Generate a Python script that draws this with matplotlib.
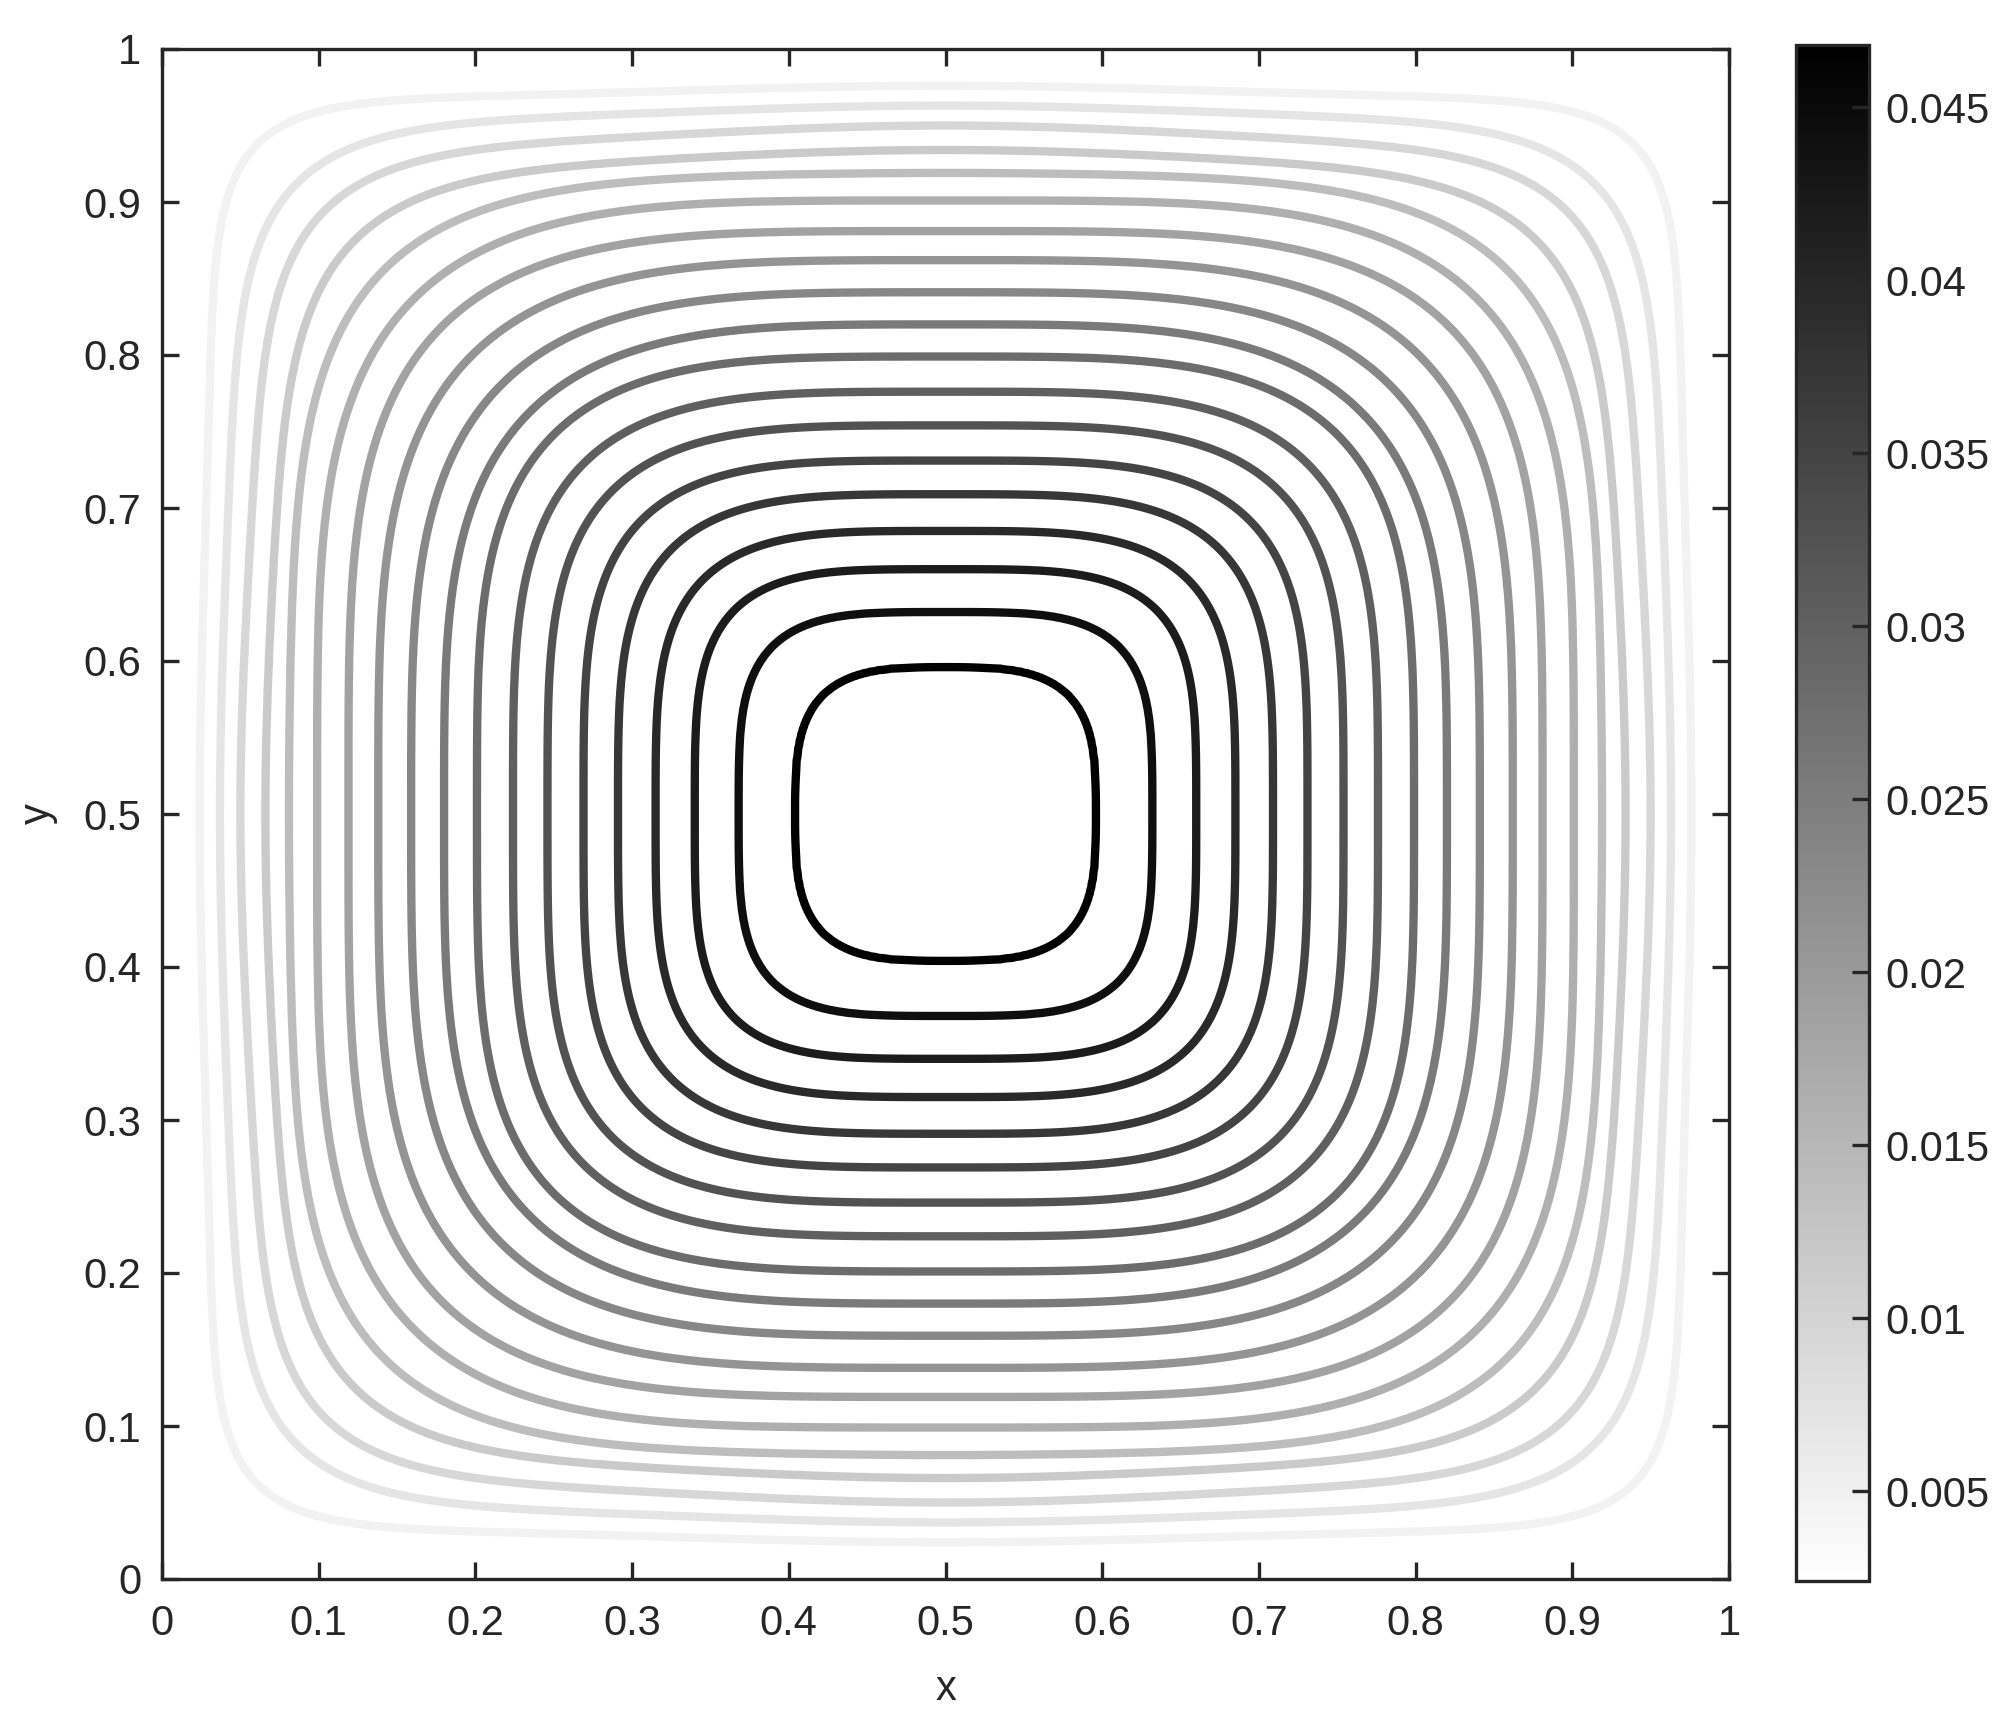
import numpy as np
import matplotlib
matplotlib.use("Agg")
import matplotlib.pyplot as plt
from matplotlib.colors import Normalize
from matplotlib.cm import ScalarMappable

plt.rcParams["font.family"] = ["Liberation Sans", "DejaVu Sans"]
plt.rcParams["font.size"] = 10

# ===============================
# DATA
# ===============================

# contour levels (outermost -> innermost)
levels = [0.00472, 0.00704, 0.00936, 0.01168, 0.01400, 0.01632, 0.01864,
          0.02096, 0.02328, 0.02560, 0.02792, 0.03024, 0.03256, 0.03488,
          0.03720, 0.03952, 0.04184, 0.04416, 0.04648]

# where each contour crosses the line y = 0.5 (distance from the wall x = 0)
mid_dist = [0.024, 0.037, 0.050, 0.066, 0.081, 0.099, 0.119, 0.138, 0.159,
            0.180, 0.201, 0.224, 0.246, 0.269, 0.291, 0.315, 0.340, 0.368, 0.404]

# where each contour crosses the diagonal x = 1 - y (value of x)
diag_dist = [0.0615, 0.087, 0.1047, 0.124, 0.143, 0.162, 0.180, 0.199, 0.218,
             0.236, 0.251, 0.270, 0.288, 0.307, 0.326, 0.346, 0.366, 0.390, 0.422]

# x position of the outer contours on the line y = 0.8 (nan = not read)
side_x = [0.031, 0.048, 0.066, 0.086, 0.107, 0.130] + [np.nan] * 13
side_y = 0.8

z_center = 0.049          # value at the middle of the box
clim = (0.0024, 0.0468)   # colour bar range

x_ticks = np.arange(0, 1.01, 0.1)
cbar_ticks = [0.005, 0.01, 0.015, 0.02, 0.025, 0.03, 0.035, 0.04, 0.045]

# ===============================
# SHAPE OF EACH CONTOUR
# ===============================
# each contour ~ rounded square: (u^p + v^p)^(1/p) * (1 + g sin^2(2 th)) = s

s_mid = 0.5 - np.array(mid_dist)
r45 = np.sqrt(2) * (0.5 - np.array(diag_dist))
p_fit = []
g_fit = []
for k in range(len(levels)):
    ratio = s_mid[k] * np.sqrt(2) / r45[k]
    p = np.log(2) / np.log(ratio)
    g = 0.0
    if not np.isnan(side_x[k]):
        uu = 0.5 - side_x[k]
        vv = side_y - 0.5
        th = np.arctan2(vv, uu)
        rt = np.hypot(uu, vv)
        ff = np.sin(2 * th) ** 2
        for _ in range(60):
            S = (np.cos(th) ** p + np.sin(th) ** p) ** (1 / p)
            g = max((s_mid[k] / rt / S - 1) / ff, 0.0)
            p = np.log(2) / np.log(ratio / (1 + g))
    p_fit.append(p)
    g_fit.append(g)

order = np.argsort(s_mid)
s_sorted = s_mid[order]
p_sorted = np.array(p_fit)[order]
g_sorted = np.array(g_fit)[order]

# ===============================
# FIELD ON A GRID
# ===============================

n = 1001
xg = np.linspace(0, 1, n)
X, Y = np.meshgrid(xg, xg)
U = np.abs(X - 0.5)
V = np.abs(Y - 0.5)
R2 = U ** 2 + V ** 2
F = np.where(R2 > 0, (2 * U * V / np.where(R2 > 0, R2, 1)) ** 2, 0.0)

lo = np.zeros_like(U)
hi = np.ones_like(U)
for _ in range(45):
    mid = 0.5 * (lo + hi)
    pp = np.interp(mid, s_sorted, p_sorted)
    gg = np.interp(mid, s_sorted, g_sorted)
    rho = (U ** pp + V ** pp) ** (1 / pp) * (1 + gg * F)
    outside = rho > mid
    lo = np.where(outside, mid, lo)
    hi = np.where(outside, hi, mid)
s_star = 0.5 * (lo + hi)

xp = np.concatenate([[0.0], s_sorted, [0.5]])
fp = np.concatenate([[z_center], np.array(levels)[order], [0.0]])
Z = np.interp(s_star, xp, fp)

# ===============================
# GRAPH
# ===============================

W, H = 2001, 1724
fig = plt.figure(figsize=(W / 300, H / 300), dpi=300)
ax = fig.add_axes([162 / W, 1 - 1579 / H, (1729 - 162) / W, (1579 - 49) / H])
cax = fig.add_axes([1796 / W, 1 - 1581 / H, 73 / W, (1581 - 45) / H])

norm = Normalize(vmin=clim[0], vmax=clim[1])
ax.contour(X, Y, Z, levels=levels, cmap="gray_r", norm=norm, linewidths=2)

dark = "#262626"
ax.set_xlim(0, 1)
ax.set_ylim(0, 1)
ax.set_xticks(x_ticks)
ax.set_yticks(x_ticks)
ax.set_xticklabels([f"{t:g}" for t in x_ticks])
ax.set_yticklabels([f"{t:g}" for t in x_ticks])
ax.tick_params(direction="in", top=True, right=True, length=4, width=0.8,
               colors=dark, pad=6)
ax.tick_params(axis="y", pad=5)
for sp in ax.spines.values():
    sp.set_linewidth(0.8)
    sp.set_color(dark)
ax.set_xlabel("x", color=dark, labelpad=6)
ax.set_ylabel("y", color=dark, labelpad=6)

cb = fig.colorbar(ScalarMappable(norm=norm, cmap="gray_r"), cax=cax)
cb.set_ticks(cbar_ticks)
cb.set_ticklabels([f"{t:g}" for t in cbar_ticks])
cax.tick_params(direction="in", length=4, width=0.8, colors=dark, pad=4)
cb.outline.set_linewidth(0.8)
cb.outline.set_edgecolor(dark)

fig.savefig("out.png", dpi=300)
